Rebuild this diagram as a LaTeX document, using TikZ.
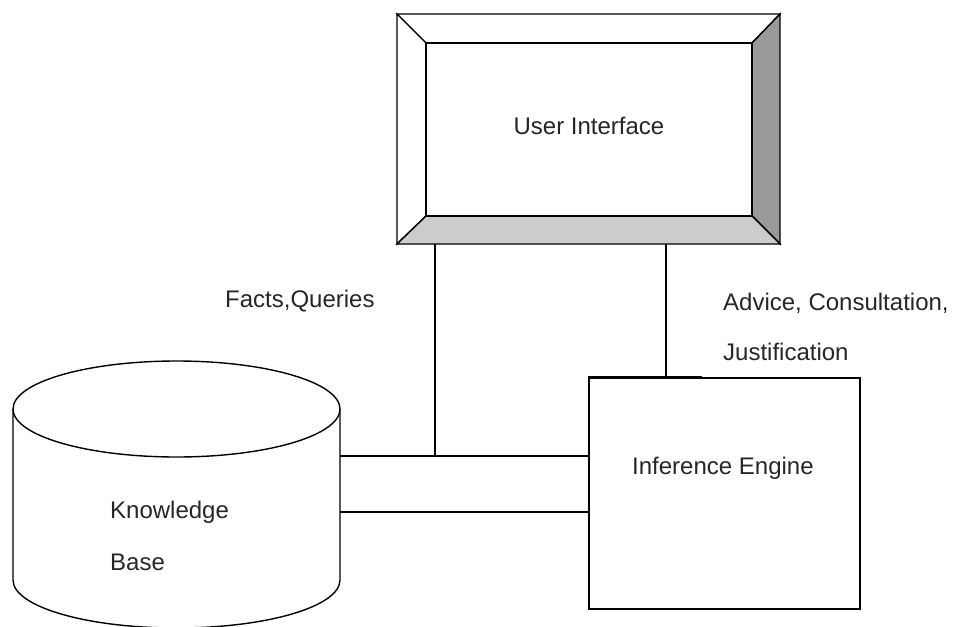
\documentclass[tikz,border=0pt]{standalone}
\usepackage{fontspec}
\setmainfont{Liberation Sans}
\tikzset{
  edge/.style={line width=1.4pt, black},
  lbl/.style={inner sep=0pt, anchor=base west, text=black!85,
              font=\fontsize{24}{28}\selectfont},
  face/.style={draw, line width=1.4pt, inner sep=0pt},
  bevel/.style={draw, line width=1.4pt, line join=miter},
}
\begin{document}
\begin{tikzpicture}[x=1pt,y=-1pt]
  \useasboundingbox (0,0) rectangle (957,626);
  \clip (0,0) rectangle (957,626);

  % --- User Interface: bevelled panel ---
  \coordinate (uoNW) at (397,14);
  \coordinate (uoNE) at (780,14);
  \coordinate (uoSE) at (780,244);
  \coordinate (uoSW) at (397,244);
  \coordinate (uiNW) at (426,43);
  \coordinate (uiNE) at (752,43);
  \coordinate (uiSE) at (752,216);
  \coordinate (uiSW) at (426,216);
  \filldraw[bevel, fill=white] (uoNW) -- (uoNE) -- (uiNE) -- (uiNW) -- cycle;
  \filldraw[bevel, fill=white] (uoNW) -- (uiNW) -- (uiSW) -- (uoSW) -- cycle;
  \filldraw[bevel, fill=black!40] (uoNE) -- (uoSE) -- (uiSE) -- (uiNE) -- cycle;
  \filldraw[bevel, fill=black!20] (uoSW) -- (uiSW) -- (uiSE) -- (uoSE) -- cycle;
  \node[face, fill=white, minimum width=326pt, minimum height=173pt] (ui) at (589,129.5) {};
  \node[lbl, anchor=base] (uitext) at (589,134) {User Interface};

  % --- Inference Engine box ---
  \node[face, minimum width=271pt, minimum height=231pt] (ie) at (724.5,493.5) {};
  \node[lbl] (ietext) at (632,474) {Inference Engine};
  \draw[line width=2.4pt] (ie.north west) -- ++(114,0) coordinate (ietop);

  % --- Knowledge Base cylinder (bottom rim runs off the lower edge) ---
  \coordinate (kbC) at (176.5,409);
  \draw[line width=1.4pt] (13,409) -- (13,580)
        arc[start angle=180, end angle=360, x radius=163.5pt, y radius=48pt]
        -- (340,409);
  \draw[line width=1.4pt] (kbC) ellipse[x radius=163.5pt, y radius=48pt];
  \coordinate (kbE1) at (340,456);
  \coordinate (kbE2) at (340,512);
  \node[lbl] (kbt1) at (110,518) {Knowledge};
  \node[lbl] (kbt2) at (110,570) {Base};

  % --- connectors ---
  \coordinate (uiL) at (435,244);
  \coordinate (uiR) at (666,244);
  \coordinate (join) at (435,456);
  \draw[edge] (uiL) -- (join);
  \draw[edge] (uiR) -- (uiR |- ie.north);
  \draw[edge] (kbE1) -- (kbE1 -| ie.west);
  \draw[edge] (kbE2) -- (kbE2 -| ie.west);

  % --- flow labels ---
  \node[lbl] (facts) at (225,307) {Facts,Queries};
  \node[lbl] (adv1) at (723,310) {Advice, Consultation,};
  \node[lbl] (adv2) at (723,360) {Justification};
\end{tikzpicture}
\end{document}
